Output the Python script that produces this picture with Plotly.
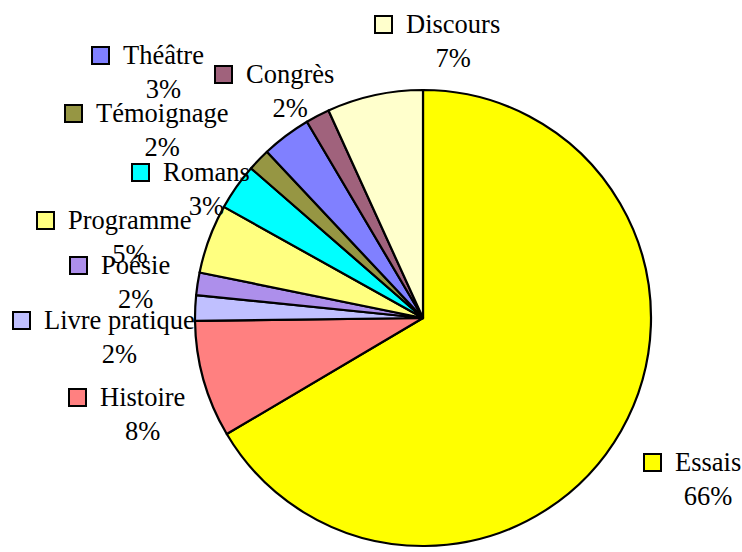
import plotly.graph_objects as go

W, H = 742, 552

categories = ["Essais", "Histoire", "Livre pratique", "Poésie", "Programme",
              "Romans", "Témoignage", "Théâtre", "Congrès", "Discours"]
values = [66.5, 8.3, 1.8, 1.6, 4.9, 3.3, 1.6, 3.5, 1.7, 6.8]
pct_labels = ["66%", "8%", "2%", "2%", "5%", "3%", "2%", "3%", "2%", "7%"]
colors = ["#FFFF00", "#FF8080", "#C0C0FF", "#AD8FEB", "#FFFF80",
          "#00FFFF", "#969643", "#8080FF", "#A0627C", "#FFFFCC"]

# label layout: (name text left edge px, first baseline px)
label_pos = [(674, 470), (99, 405), (43, 328), (100, 273), (67, 228),
             (162, 180), (95, 121), (122, 63), (245, 82), (405, 32)]

FONT = "Liberation Serif"
FS = 26.5

cx, cy, r = 423, 318, 228

fig = go.Figure(go.Pie(
    labels=categories, values=values, sort=False, direction="clockwise",
    rotation=0, textinfo="none", hoverinfo="label+percent",
    marker=dict(colors=colors, line=dict(color="black", width=2.2)),
    domain=dict(x=[(cx - r) / W, (cx + r) / W], y=[1 - (cy + r) / H, 1 - (cy - r) / H]),
    showlegend=False,
))

annotations = []
shapes = []
for name, pct, col, (lx, by) in zip(categories, pct_labels, colors, label_pos):
    annotations.append(dict(
        x=lx / W, y=1 - (by - 24) / H, xref="paper", yref="paper",
        xanchor="left", yanchor="top", align="center", showarrow=False,
        text=f"{name}<br>{pct}", borderpad=0,
        font=dict(family=FONT, size=FS, color="black"),
    ))
    shapes.append(dict(
        type="rect", xref="paper", yref="paper",
        x0=(lx - 30) / W, x1=(lx - 13) / W,
        y0=1 - (by + 1) / H, y1=1 - (by - 16) / H,
        fillcolor=col, line=dict(color="black", width=2),
    ))

fig.update_layout(
    width=W, height=H, margin=dict(l=0, r=0, t=0, b=0),
    paper_bgcolor="white", plot_bgcolor="white",
    annotations=annotations, shapes=shapes,
    font=dict(family=FONT),
)

fig.write_html("out.html", config={"displayModeBar": False},
               post_script="document.body.style.margin='0';")
